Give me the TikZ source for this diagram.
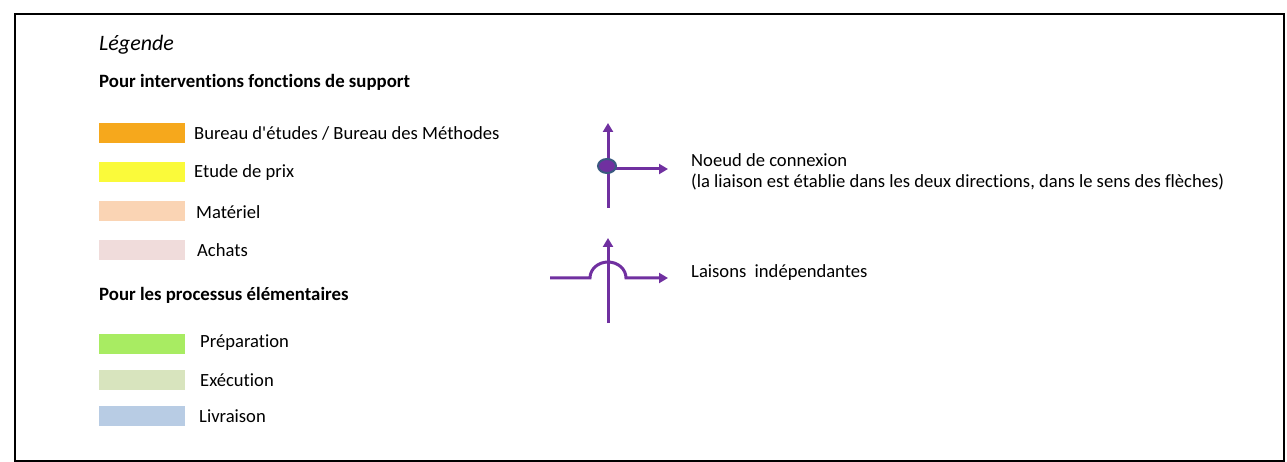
\documentclass[tikz,border=0pt]{standalone}
\usepackage{fontspec}
\setmainfont{Carlito}[Ligatures={TeXOff,NoCommon}]
\usetikzlibrary{arrows.meta,shapes.geometric}
\definecolor{cOrange}{HTML}{F6A81C}
\definecolor{cYellow}{HTML}{FAFA3A}
\definecolor{cPeach}{HTML}{FAD4B4}
\definecolor{cPink}{HTML}{F0DCDB}
\definecolor{cGreen}{HTML}{A8EC62}
\definecolor{cExec}{HTML}{D8E4BE}
\definecolor{cLiv}{HTML}{B8CCE4}
\definecolor{cPurple}{HTML}{7030A0}
\definecolor{cNodeEdge}{HTML}{3A5A80}
\begin{document}
\begin{tikzpicture}[x=1pt,y=-1pt,
  txt/.style={anchor=west,inner sep=0pt,font=\fontsize{18.6}{20}\selectfont},
  head/.style={txt,font=\fontsize{18.8}{20}\selectfont\bfseries},
  swatch/.style={minimum width=86pt,minimum height=20pt,inner sep=0pt,anchor=north west,draw=none},
  link/.style={draw=cPurple,line width=3pt},
  arr/.style={link,-{Triangle[length=9pt,width=10pt]}}]
\useasboundingbox (0,0) rectangle (1287,462);
\draw[line width=2pt] (15,14) rectangle (1284,461);
\node[txt,font=\fontsize{22}{24}\selectfont\itshape] (title) at (99,45) {Légende};
\node[head] (h1) at (99,82) {Pour interventions fonctions de support};
\node[swatch,fill=cOrange] (s1) at (99,123) {};
\node[swatch,fill=cYellow] (s2) at (99,162) {};
\node[swatch,fill=cPeach] (s3) at (99,201) {};
\node[swatch,fill=cPink] (s4) at (99,240) {};
\node[txt] (t1) at (194,133) {Bureau d'études / Bureau des Méthodes};
\node[txt] (t2) at (194,173) {Etude de prix};
\node[txt] (t3) at (196,212) {Matériel};
\node[txt] (t4) at (197,250) {Achats};
\node[head] (h2) at (99,295) {Pour les processus élémentaires};
\node[swatch,fill=cGreen] (s5) at (99,334) {};
\node[swatch,fill=cExec] (s6) at (99,370) {};
\node[swatch,fill=cLiv] (s7) at (99,406) {};
\node[txt] (t5) at (200,343) {Préparation};
\node[txt] (t6) at (200,380) {Exécution};
\node[txt] (t7) at (199,416) {Livraison};
% connection node symbol
\coordinate (a1bot) at (608,208);
\coordinate (a1top) at (608,123);
\coordinate (a1right) at (668,169);
\coordinate (a1c) at (608,169);
\draw[arr] (a1bot) -- (a1top);
\draw[arr] (a1c) -- (a1right);
\node[ellipse,draw=cNodeEdge,fill=cPurple,line width=2pt,minimum width=18pt,minimum height=14pt,inner sep=0pt] (knot) at (607,166) {};
\node[txt] (n1) at (691,160) {Noeud de connexion};
\node[txt] (n2) at (691,182) {(la liaison est établie dans les deux directions, dans le sens des flèches)};
% independent links
\coordinate (b1bot) at (608,323);
\coordinate (b1top) at (608,238);
\coordinate (b1left) at (550,278);
\coordinate (b1right) at (668,278);
\draw[arr] (b1bot) -- (b1top);
\draw[arr] (b1left) -- (590,278) arc[start angle=180,end angle=0,x radius=18,y radius=-16] -- (b1right);
\node[txt] (n3) at (691,273) {Laisons\ \ indépendantes};
\end{tikzpicture}
\end{document}
